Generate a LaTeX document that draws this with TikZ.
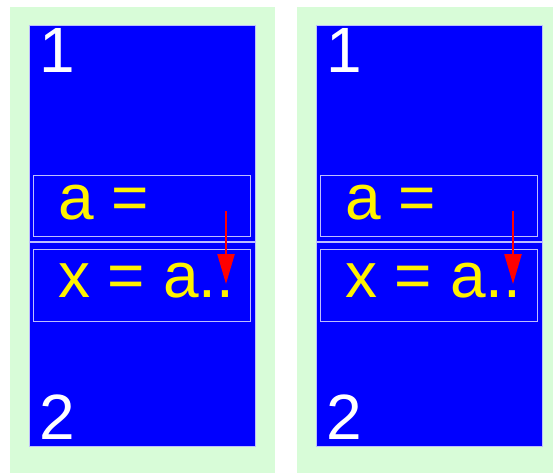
\documentclass[tikz,border=0pt]{standalone}
\usepackage{fontspec}
\setmainfont{Liberation Sans}
\usetikzlibrary{arrows.meta}
\definecolor{panelgreen}{RGB}{216,252,216}
\definecolor{boxline}{RGB}{190,190,255}
\tikzset{
  bigtext/.style={inner sep=0pt, anchor=base west, font=\fontsize{64}{64}\selectfont},
  numtext/.style={bigtext, text=white},
  codetext/.style={bigtext, text=yellow},
  codebox/.style={draw=boxline, line width=1pt},
  redarrow/.style={draw=red, line width=2.3pt, -{Triangle[width=17pt,length=30pt]}},
}
\newcommand\drawpanel[3]{%
  \begin{scope}[xshift=#2]
    \fill[panelgreen] (10,7) rectangle (#3,473);
    \fill[blue] (29,25) rectangle (255,446);
    \draw[boxline, line width=0.6pt] (29,25) rectangle (255,446);
    \draw[boxline, line width=2pt] (29,242) -- (255,242);
    \draw[codebox] (33,175) rectangle (250,236);
    \draw[codebox] (33,249) rectangle (250,321);
    \node[numtext] (one#1) at (39,73) {1};
    \node[numtext] (two#1) at (39,439) {2};
    \node[codetext] (a#1) at (58,219) {a =};
    \node[codetext] (x#1) at (58,297) {x = a..};
    \coordinate (as#1) at (226,211);
    \coordinate (ae#1) at (226,284);
    \draw[redarrow] (as#1) -- (ae#1);
  \end{scope}}
\begin{document}
\begin{tikzpicture}[x=1pt,y=-1pt]
  \useasboundingbox (0,0) rectangle (553,473);
  \fill[white] (0,0) rectangle (553,473);
  \drawpanel{L}{0pt}{275}
  \drawpanel{R}{287pt}{266}
\end{tikzpicture}
\end{document}
